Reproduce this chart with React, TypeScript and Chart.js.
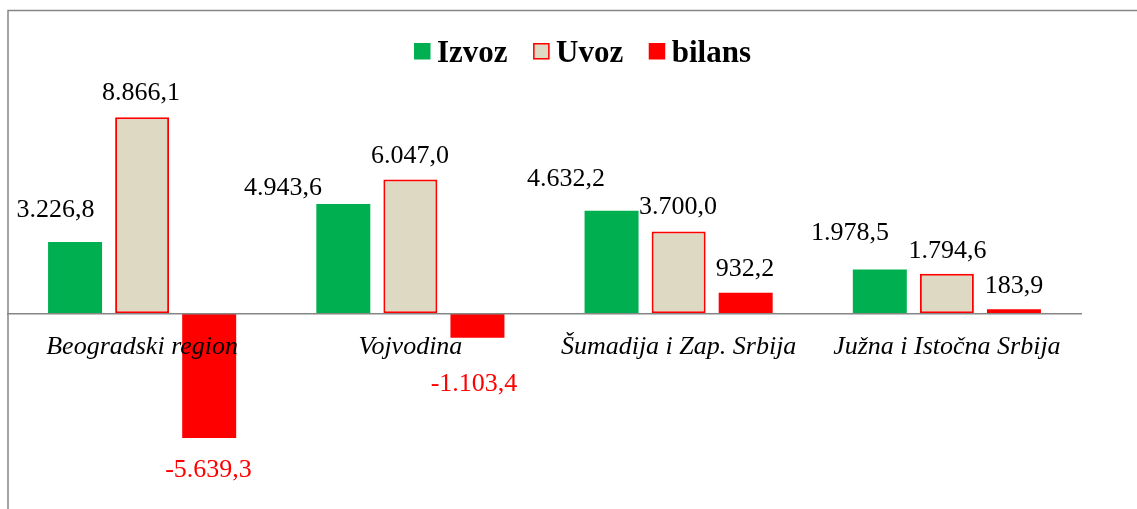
import React, { useEffect, useRef } from 'react';
import { Chart, registerables } from 'chart.js';

Chart.register(...registerables);

// ---- data ----
const categories = ['Beogradski region', 'Vojvodina', 'Šumadija i Zap. Srbija', 'Južna i Istočna Srbija'];
const seriesNames = ['Izvoz', 'Uvoz', 'bilans'];
const izvoz = [3226.8, 4943.6, 4632.2, 1978.5];
const uvoz = [8866.1, 6047.0, 3700.0, 1794.6];
const bilans = [-5639.3, -1103.4, 932.2, 183.9];

// axis range
const yMin = -8800;
const yMax = 11000;

// ---- layout of value labels (offset of label centre from bar end) ----
const LABEL_OFFSETS: number[][][] = [
  [[-19.6, -33.9], [-60.3, -17.4], [-45.6, -33.3], [-29.8, -38]],
  [[-1.1, -25.7], [-0.4, -25.5], [-0.6, -26], [0.6, -24.6]],
  [[-0.7, 29.9], [-3.4, 44.8], [-0.7, -25.7], [0.1, -25.2]],
];

const FONT = "'Liberation Serif', 'Times New Roman', serif";
const GRAY = '#868686';

function fmt(v: number): string {
  const neg = v < 0;
  const s = Math.abs(v).toFixed(1);
  const [i, d] = s.split('.');
  const ii = i.replace(/\B(?=(\d{3})+(?!\d))/g, '.');
  return (neg ? '-' : '') + ii + ',' + d;
}

const framePlugin = {
  id: 'frame',
  beforeDraw(chart: any) {
    const ctx = chart.ctx;
    ctx.save();
    ctx.strokeStyle = GRAY;
    ctx.lineWidth = 1.5;
    ctx.beginPath();
    ctx.moveTo(8, 509);
    ctx.lineTo(8, 10.5);
    ctx.lineTo(1137, 10.5);
    ctx.stroke();
    ctx.restore();
  },
};

const valueLabelPlugin = {
  id: 'valueLabels',
  afterDraw(chart: any) {
    const ctx = chart.ctx;
    ctx.save();
    const size = 26;
    ctx.font = `${size}px ${FONT}`;
    ctx.textAlign = 'center';
    ctx.textBaseline = 'alphabetic';
    chart.data.datasets.forEach((ds: any, i: number) => {
      const meta = chart.getDatasetMeta(i);
      meta.data.forEach((el: any, j: number) => {
        const v = ds.data[j];
        const off = LABEL_OFFSETS[i][j];
        ctx.fillStyle = v < 0 ? '#FF0000' : '#000000';
        ctx.fillText(fmt(v), el.x + off[0], el.y + off[1] + size * 0.338);
      });
    });
    ctx.restore();
  },
};

const legendPlugin = {
  id: 'customLegend',
  afterDraw(chart: any) {
    const ctx = chart.ctx;
    ctx.save();
    ctx.font = `bold 31px ${FONT}`;
    ctx.textBaseline = 'alphabetic';
    ctx.textAlign = 'left';
    let x = 414;
    const boxTop = 43;
    const box = 16.5;
    chart.data.datasets.forEach((ds: any) => {
      ctx.fillStyle = ds.backgroundColor;
      ctx.fillRect(x, boxTop, box, box);
      if (ds.borderWidth) {
        ctx.strokeStyle = ds.borderColor;
        ctx.lineWidth = 1.5;
        ctx.strokeRect(x + 0.75, boxTop + 0.75, box - 1.5, box - 1.5);
      }
      x += box + 6.5;
      ctx.fillStyle = '#000';
      ctx.fillText(ds.label, x, 61.5);
      x += ctx.measureText(ds.label).width + 25.5;
    });
    ctx.restore();
  },
};

export default function App() {
  const ref = useRef<HTMLCanvasElement>(null);
  useEffect(() => {
    if (!ref.current) return;
    const chart = new Chart(ref.current, {
      type: 'bar',
      data: {
        labels: categories,
        datasets: [
          {
            label: seriesNames[0],
            data: izvoz,
            backgroundColor: '#00B050',
            borderWidth: 0,
          },
          {
            label: seriesNames[1],
            data: uvoz,
            backgroundColor: '#DDD9C3',
            borderColor: '#FF0000',
            borderWidth: 2,
            borderSkipped: false,
          },
          {
            label: seriesNames[2],
            data: bilans,
            backgroundColor: '#FF0000',
            borderWidth: 0,
          },
        ],
      },
      options: {
        responsive: false,
        animation: false,
        devicePixelRatio: 1,
        categoryPercentage: 0.75,
        barPercentage: 0.805,
        layout: { padding: { left: 8, right: 56, top: 70, bottom: 1 } },
        plugins: {
          legend: { display: false },
          tooltip: { enabled: false },
          title: { display: false },
        },
        scales: {
          x: {
            position: { y: 0 } as any,
            grid: { display: false, drawTicks: false },
            border: { display: true, color: GRAY, width: 1.5, z: 1 },
            ticks: {
              z: 1,
              color: '#000',
              font: { family: FONT, size: 26, style: 'italic' },
              padding: 18,
              maxRotation: 0,
              autoSkip: false,
            },
          },
          y: {
            display: false,
            min: yMin,
            max: yMax,
          },
        },
      } as any,
      plugins: [framePlugin, valueLabelPlugin, legendPlugin],
    });
    return () => chart.destroy();
  }, []);
  return (
    <div style={{ position: 'absolute', left: 0, top: 0, width: 1137, height: 509, background: '#fff' }}>
      <canvas ref={ref} width={1137} height={509} style={{ width: 1137, height: 509, display: 'block' }} />
    </div>
  );
}
